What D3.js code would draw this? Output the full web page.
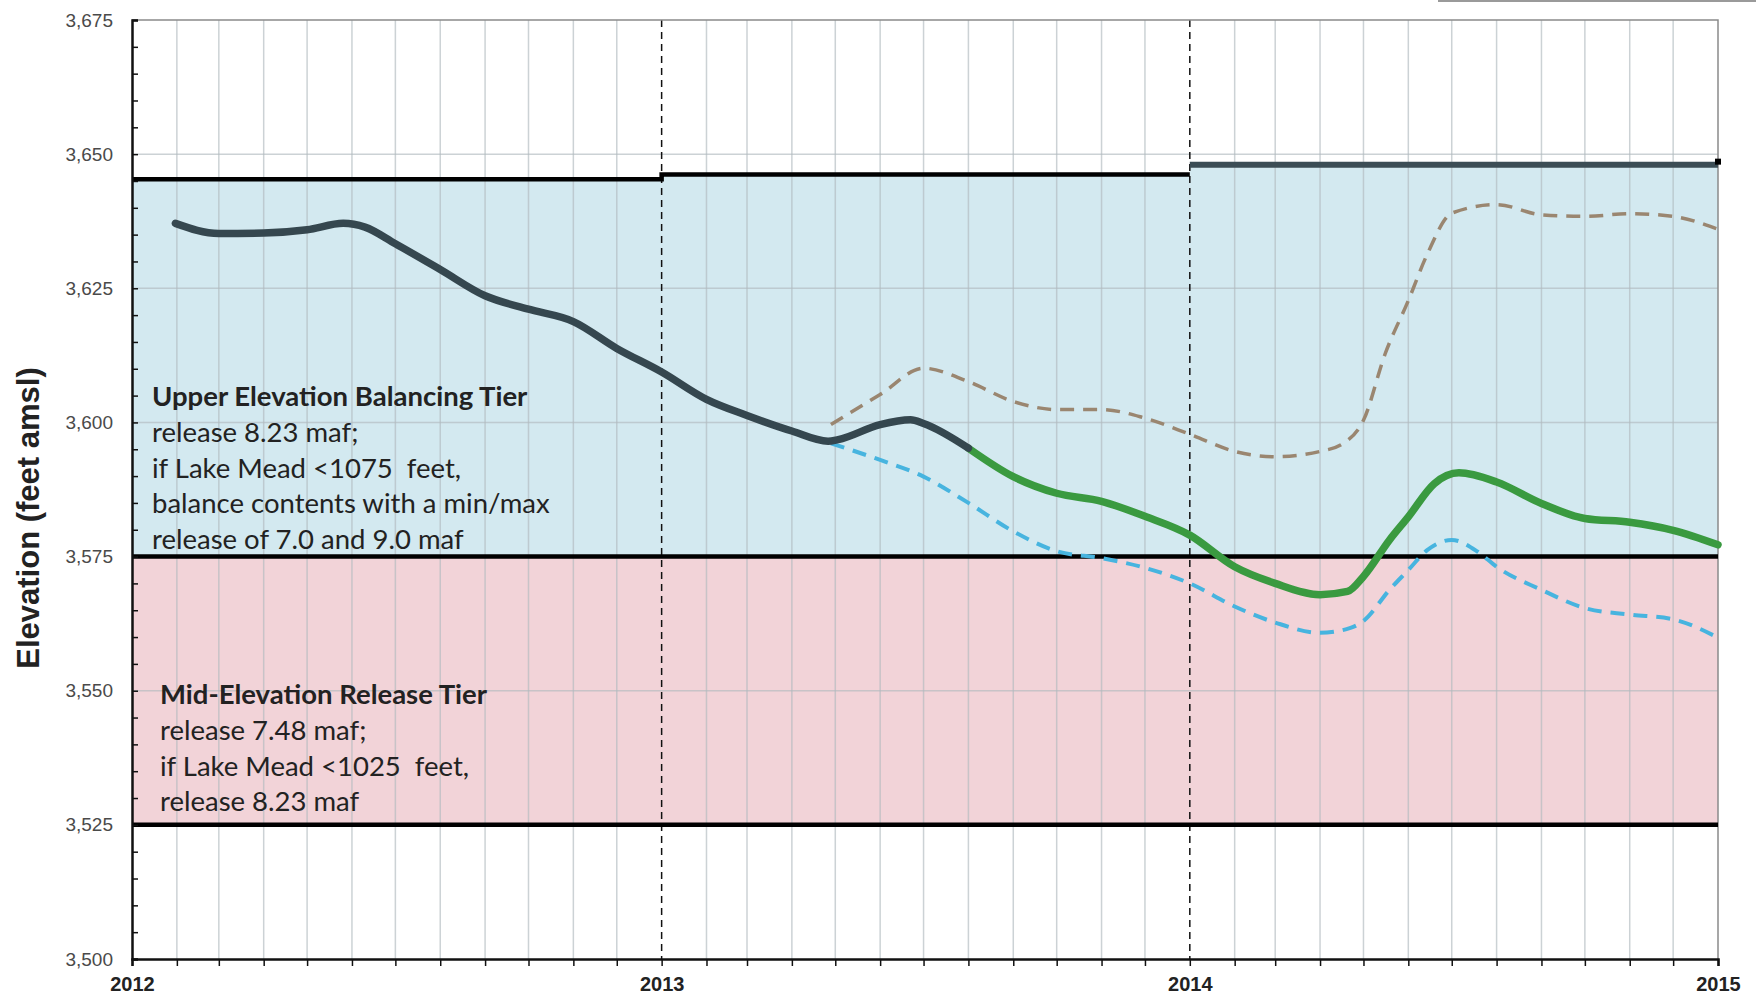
<!DOCTYPE html>
<html>
<head>
<meta charset="utf-8">
<script src="https://cdn.jsdelivr.net/npm/d3@7"></script>
<style>
  body { margin: 0; background: #ffffff; }
  svg { display: block; }
</style>
</head>
<body>
<svg id="chart"></svg>
<script>
const svgWidth = 1756;
const svgHeight = 998;
const margin = { top: 20, right: 38, bottom: 39, left: 132 };
const width = svgWidth - margin.left - margin.right;
const height = svgHeight - margin.top - margin.bottom;

var parseDate = d3.timeParse("%Y-%m-%d");

// tier boundaries
const yearStarts = ["2012-01-01", "2013-01-01", "2014-01-01", "2015-01-01"];
const equalizationLine = [3645.3, 3646.2, 3648.0, 3648.0];
const upperTierBottom = 3575;
const midTierBottom = 3525;

// historical elevation
const histDates = ["2012-01-31", "2012-03-01", "2012-04-01", "2012-05-01", "2012-05-26", "2012-06-10",
    "2012-07-01", "2012-08-01", "2012-09-01", "2012-10-01", "2012-11-01", "2012-12-01",
    "2013-01-01", "2013-02-01", "2013-03-01", "2013-04-01", "2013-04-26", "2013-05-03",
    "2013-06-01", "2013-06-22", "2013-07-01", "2013-08-01"];
const histValues = [3637.1, 3635.2, 3635.3, 3635.9, 3637.1, 3636.4,
    3633.3, 3628.5, 3623.6, 3621.1, 3618.8, 3613.8,
    3609.4, 3604.3, 3601.3, 3598.4, 3596.5, 3596.8,
    3599.6, 3600.5, 3599.8, 3595.2];

// most probable projection
const mostDates = ["2013-08-01", "2013-09-01", "2013-10-01", "2013-11-01", "2013-12-01",
    "2014-01-01", "2014-02-01", "2014-03-01", "2014-04-01", "2014-04-20", "2014-05-01",
    "2014-05-19", "2014-06-01", "2014-06-19", "2014-07-06", "2014-08-01", "2014-09-01",
    "2014-10-01", "2014-11-01", "2014-12-01", "2015-01-01"];
const mostValues = [3595.2, 3589.9, 3586.8, 3585.3, 3582.5,
    3579.0, 3573.1, 3570.0, 3567.9, 3568.5, 3571.3,
    3578.1, 3582.4, 3588.6, 3590.6, 3588.9, 3584.9,
    3582.1, 3581.4, 3579.9, 3577.2];

// maximum probable projection
const maxDates = ["2013-04-28", "2013-06-01", "2013-07-01", "2013-08-01", "2013-09-01",
    "2013-10-01", "2013-11-01", "2013-12-01", "2014-01-01", "2014-02-01", "2014-03-01",
    "2014-04-01", "2014-04-17", "2014-05-01", "2014-05-16", "2014-06-01", "2014-06-14",
    "2014-07-01", "2014-08-01", "2014-09-01", "2014-10-01", "2014-11-01", "2014-12-01",
    "2015-01-01"];
const maxValues = [3599.6, 3605.2, 3610.1, 3607.6, 3603.9,
    3602.4, 3602.4, 3600.8, 3597.8, 3594.6, 3593.6,
    3594.6, 3596.1, 3600.4, 3612.8, 3622.7, 3631.3,
    3639.0, 3640.6, 3638.7, 3638.4, 3638.9, 3638.4,
    3636.0];

// minimum probable projection
const minDates = ["2013-04-28", "2013-06-01", "2013-07-01", "2013-08-01", "2013-09-01",
    "2013-10-01", "2013-11-01", "2013-12-01", "2014-01-01", "2014-02-01", "2014-03-01",
    "2014-04-01", "2014-04-22", "2014-05-01", "2014-05-19", "2014-06-01", "2014-06-14",
    "2014-07-01", "2014-07-19", "2014-08-01", "2014-09-01", "2014-10-01", "2014-11-01",
    "2014-12-01", "2015-01-01"];
const minValues = [3596.1, 3593.0, 3589.9, 3585.0, 3579.7,
    3576.0, 3574.7, 3572.9, 3570.0, 3565.7, 3562.7,
    3560.8, 3561.7, 3563.0, 3568.8, 3572.5, 3576.2,
    3578.1, 3575.9, 3573.1, 3568.8, 3565.4, 3564.2,
    3563.3, 3559.9];

const upperTierText = ["Upper Elevation Balancing Tier", "release 8.23 maf;", "if Lake Mead <1075  feet,",
    "balance contents with a min/max", "release of 7.0 and 9.0 maf"];
const midTierText = ["Mid-Elevation Release Tier", "release 7.48 maf;", "if Lake Mead <1025  feet,",
    "release 8.23 maf"];

const yMin = 3500;
const yMax = 3675;

function zip(dates, values) {
    return dates.map(function(d, i) { return { date: parseDate(d), value: values[i] }; });
}

var svg = d3.select("#chart")
    .attr("width", svgWidth)
    .attr("height", svgHeight);

var x = d3.scaleTime()
    .domain([parseDate(yearStarts[0]), parseDate(yearStarts[3])])
    .range([0, width]);

var y = d3.scaleLinear()
    .domain([yMin, yMax])
    .range([height, 0]);

// piece of a legend frame cut off at the top right
svg.append("line")
    .attr("x1", 1438).attr("x2", svgWidth)
    .attr("y1", 1).attr("y2", 1)
    .attr("stroke", "#9a9a9a")
    .attr("stroke-width", 2);

var g = svg.append("g")
    .attr("transform", "translate(" + margin.left + "," + margin.top + ")");

var tiers = zip(yearStarts, equalizationLine);

// tier fills
g.append("path")
    .datum(tiers)
    .attr("fill", "#d3e9f0")
    .attr("d", d3.area()
        .curve(d3.curveStepAfter)
        .x(d => x(d.date))
        .y0(y(upperTierBottom))
        .y1(d => y(d.value)));

g.append("rect")
    .attr("x", 0)
    .attr("width", width)
    .attr("y", y(upperTierBottom))
    .attr("height", y(midTierBottom) - y(upperTierBottom))
    .attr("fill", "#f2d3d8");

// gridlines
var months = d3.timeMonth.range(x.domain()[0], x.domain()[1]).slice(1);
g.selectAll(".vgrid")
    .data(months.filter(d => d.getMonth() !== 0))
    .enter()
    .append("line")
    .attr("class", "vgrid")
    .attr("x1", d => x(d)).attr("x2", d => x(d))
    .attr("y1", 0).attr("y2", height)
    .attr("stroke", "#b0babf")
    .attr("stroke-opacity", 0.65)
    .attr("stroke-width", 1.5);

g.selectAll(".hgrid")
    .data(d3.range(yMin + 25, yMax, 25))
    .enter()
    .append("line")
    .attr("class", "hgrid")
    .attr("x1", 0).attr("x2", width)
    .attr("y1", d => y(d)).attr("y2", d => y(d))
    .attr("stroke", "#b0babf")
    .attr("stroke-opacity", 0.65)
    .attr("stroke-width", 1.5);

// year separators
g.selectAll(".yearline")
    .data(yearStarts.slice(1, 3).map(parseDate))
    .enter()
    .append("line")
    .attr("class", "yearline")
    .attr("x1", d => x(d)).attr("x2", d => x(d))
    .attr("y1", 0).attr("y2", height)
    .attr("stroke", "#111")
    .attr("stroke-width", 1.5)
    .attr("stroke-dasharray", "7,5");

// frame top and right
g.append("path")
    .attr("d", "M0,0H" + width + "V" + height)
    .attr("fill", "none")
    .attr("stroke", "#8a8a8a")
    .attr("stroke-width", 1.5);

// tier boundary lines
g.selectAll(".tierline")
    .data([upperTierBottom, midTierBottom])
    .enter()
    .append("line")
    .attr("class", "tierline")
    .attr("x1", 0).attr("x2", width)
    .attr("y1", d => y(d)).attr("y2", d => y(d))
    .attr("stroke", "#000")
    .attr("stroke-width", 4.5);

var line = d3.line()
    .x(d => x(d.date))
    .y(d => y(d.value));

g.append("path")
    .datum([tiers[0], tiers[1], { date: tiers[2].date, value: tiers[1].value }])
    .attr("fill", "none")
    .attr("stroke", "#000")
    .attr("stroke-width", 4.5)
    .attr("d", line.curve(d3.curveStepAfter));

g.append("path")
    .datum(tiers.slice(2))
    .attr("fill", "none")
    .attr("stroke", "#3b4d55")
    .attr("stroke-width", 6)
    .attr("d", line.curve(d3.curveLinear));

g.append("rect")
    .attr("x", x(tiers[3].date) - 3)
    .attr("y", y(tiers[3].value + 0.6) - 3)
    .attr("width", 6)
    .attr("height", 6)
    .attr("fill", "#000");

var smooth = d3.line()
    .curve(d3.curveMonotoneX)
    .x(d => x(d.date))
    .y(d => y(d.value));

g.append("path")
    .datum(zip(maxDates, maxValues))
    .attr("fill", "none")
    .attr("stroke", "#9a8670")
    .attr("stroke-width", 3.5)
    .attr("stroke-dasharray", "14,9")
    .attr("d", smooth);

g.append("path")
    .datum(zip(minDates, minValues))
    .attr("fill", "none")
    .attr("stroke", "#47b4df")
    .attr("stroke-width", 4)
    .attr("stroke-dasharray", "14,9")
    .attr("d", smooth);

g.append("path")
    .datum(zip(mostDates, mostValues))
    .attr("fill", "none")
    .attr("stroke", "#3a9a40")
    .attr("stroke-width", 7.5)
    .attr("stroke-linecap", "round")
    .attr("d", smooth);

g.append("path")
    .datum(zip(histDates, histValues))
    .attr("fill", "none")
    .attr("stroke", "#35474f")
    .attr("stroke-width", 7.5)
    .attr("stroke-linecap", "round")
    .attr("d", smooth);

// axes
var yAxis = d3.axisLeft(y)
    .tickValues(d3.range(yMin, yMax + 1, 5))
    .tickSize(-6)
    .tickPadding(19)
    .tickFormat(d => d % 25 === 0 ? d3.format(",")(d) : "");

g.append("g")
    .call(yAxis)
    .call(a => a.select(".domain").attr("stroke", "#111").attr("stroke-width", 2.5))
    .call(a => a.selectAll(".tick line").attr("stroke", "#111").attr("stroke-width", 1.5))
    .call(a => a.selectAll("text")
        .attr("font-family", "Liberation Sans, Arial, sans-serif")
        .attr("font-size", 19)
        .attr("fill", "#4a4a4a"));

var xAxis = d3.axisBottom(x)
    .ticks(d3.timeMonth.every(1))
    .tickSize(7)
    .tickPadding(11)
    .tickFormat(d => d.getMonth() === 0 ? d3.timeFormat("%Y")(d) : "");

g.append("g")
    .attr("transform", "translate(0," + height + ")")
    .call(xAxis)
    .call(a => a.select(".domain").attr("stroke", "#111").attr("stroke-width", 2.5))
    .call(a => a.selectAll(".tick line").attr("stroke", "#111").attr("stroke-width", 1.5))
    .call(a => a.selectAll("text")
        .attr("font-family", "Liberation Sans, Arial, sans-serif")
        .attr("font-size", 20)
        .attr("font-weight", "bold")
        .attr("fill", "#222"));

svg.append("text")
    .attr("transform", "translate(39,518) rotate(-90)")
    .attr("text-anchor", "middle")
    .attr("font-family", "Liberation Sans, Arial, sans-serif")
    .attr("font-size", 31)
    .attr("font-weight", "bold")
    .attr("fill", "#222")
    .text("Elevation (feet amsl)");

// tier notes
function addNote(lines, x0, y0) {
    var t = svg.append("text")
        .attr("font-family", "Lato, 'Open Sans', sans-serif")
        .attr("font-size", 27.5)
        .attr("fill", "#222");
    t.selectAll("tspan")
        .data(lines)
        .enter()
        .append("tspan")
        .attr("x", x0)
        .attr("y", (d, i) => y0 + i * 35.8)
        .attr("font-weight", (d, i) => i === 0 ? "bold" : "normal")
        .style("white-space", "pre")
        .text(d => d);
}

addNote(upperTierText, 152, 406);
addNote(midTierText, 160, 704);
</script>
</body>
</html>
